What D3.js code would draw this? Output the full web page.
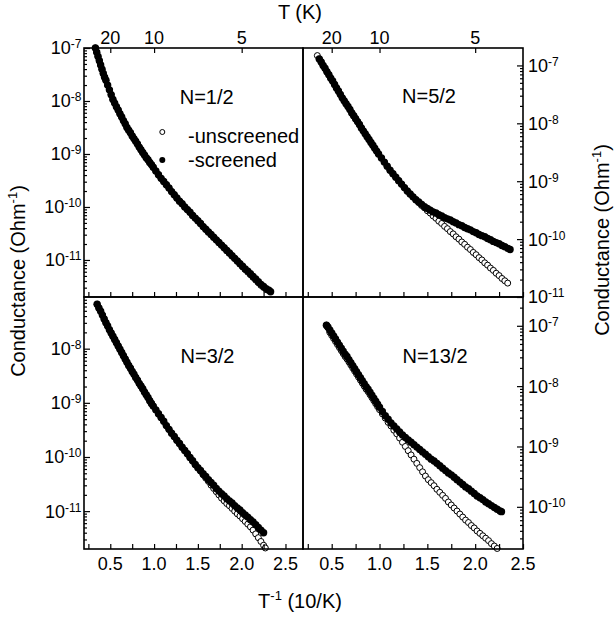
<!DOCTYPE html>
<html>
<head>
<meta charset="utf-8">
<script src="https://cdn.jsdelivr.net/npm/d3@7"></script>
<style>
  body { margin: 0; background: #fff; }
  svg { display: block; }
  text { font-family: "Liberation Sans", Arial, Helvetica, sans-serif; fill: #000; }
</style>
</head>
<body>
<svg id="chart" width="614" height="620"></svg>
<script>
// ---------------- DATA ----------------
// x: inverse temperature T^-1 (10/K); values: log10 of conductance (Ohm^-1)
const panelNames = ["N=1/2", "N=5/2", "N=3/2", "N=13/2"];
const legendLabels = ["-unscreened", "-screened"];
const xTickValues = [0.25, 0.5, 0.75, 1.0, 1.25, 1.5, 1.75, 2.0, 2.25, 2.5];
const xTickLabels = [0.5, 1.0, 1.5, 2.0, 2.5];
const tempTicks = [20, 10, 5];           // T (K) on the top axis
const decadeExponents = [-11, -10, -9, -8, -7];

// Panel N=1/2
const invT_1 = [0.33,0.345,0.36,0.375,0.39,0.405,0.42,0.435,0.45,
  0.47,0.49,0.51,0.53,0.55,0.57,0.59,0.61,0.63,0.65,0.67,0.69,0.71,0.73,0.75,0.77,0.79,0.81,0.83,0.85,0.87,0.89,0.91,0.93,0.95,0.97,0.99,
  1.02,1.05,1.08,1.11,1.14,1.17,1.20,1.23,1.26,1.29,1.32,1.35,1.38,1.41,1.44,1.47,1.50,1.53,1.56,1.59,1.62,1.65,1.68,1.71,1.74,1.77,1.80,1.83,1.86,1.89,1.92,1.95,1.98,2.01,2.04,2.07,2.10,2.13,2.16,2.19,2.22,2.25,2.28,2.31,
  2.33];
const logG_screened_1 = [-7.00,-7.08,-7.16,-7.24,-7.32,-7.40,-7.48,-7.55,-7.61,
  -7.70,-7.79,-7.88,-7.97,-8.04,-8.11,-8.17,-8.24,-8.30,-8.37,-8.43,-8.50,-8.55,-8.60,-8.66,-8.71,-8.76,-8.81,-8.87,-8.92,-8.97,-9.02,-9.07,-9.11,-9.16,-9.20,-9.25,
  -9.32,-9.39,-9.46,-9.52,-9.58,-9.64,-9.71,-9.77,-9.83,-9.89,-9.94,-10.00,-10.05,-10.10,-10.16,-10.21,-10.26,-10.31,-10.37,-10.42,-10.47,-10.52,-10.57,-10.62,-10.67,-10.72,-10.77,-10.82,-10.87,-10.92,-10.97,-11.02,-11.07,-11.12,-11.17,-11.21,-11.26,-11.31,-11.36,-11.41,-11.46,-11.50,-11.54,-11.57,
  -11.60];
const logG_unscreened_1 = [-7.00,-7.08,-7.16,-7.24,-7.32,-7.40,-7.48,-7.55,-7.61,
  -7.70,-7.79,-7.88,-7.97,-8.04,-8.11,-8.17,-8.24,-8.30,-8.37,-8.43,-8.50,-8.55,-8.60,-8.66,-8.71,-8.76,-8.81,-8.87,-8.92,-8.97,-9.02,-9.07,-9.11,-9.16,-9.20,-9.25,
  -9.32,-9.39,-9.46,-9.52,-9.58,-9.64,-9.71,-9.77,-9.83,-9.89,-9.94,-10.00,-10.05,-10.10,-10.16,-10.21,-10.26,-10.31,-10.37,-10.42,-10.47,-10.52,-10.57,-10.62,-10.67,-10.72,-10.77,-10.82,-10.87,-10.92,-10.97,-11.02,-11.07,-11.13,-11.18,-11.23,-11.28,-11.33,-11.38,-11.43,-11.48,-11.52,-11.56,null,
  null];

// Panel N=5/2
const invT_2 = [0.35,0.37,0.39,0.41,0.43,0.45,0.47,0.49,0.51,0.53,0.55,0.57,0.59,0.61,0.63,0.65,0.67,0.69,0.71,0.73,0.75,0.77,0.79,0.81,0.83,0.85,0.87,0.89,0.91,0.93,0.95,0.97,0.99,
  1.02,1.05,1.08,1.11,1.14,1.17,1.20,1.23,1.26,1.29,1.32,1.35,1.38,1.41,1.44,1.47,1.50,1.53,1.56,1.59,1.62,1.65,1.68,1.71,1.74,1.77,1.80,1.83,1.86,1.89,1.92,1.95,1.98,2.01,2.04,2.07,2.10,2.13,2.16,2.19,2.22,2.25,2.28,2.31,2.34,
  2.365];
const logG_screened_2 = [null,-6.89,-6.94,-7.00,-7.05,-7.11,-7.16,-7.22,-7.27,-7.33,-7.39,-7.44,-7.50,-7.56,-7.61,-7.66,-7.71,-7.76,-7.82,-7.87,-7.92,-7.97,-8.02,-8.08,-8.13,-8.18,-8.23,-8.28,-8.33,-8.38,-8.43,-8.48,-8.53,
  -8.60,-8.67,-8.74,-8.81,-8.87,-8.93,-8.99,-9.05,-9.11,-9.17,-9.22,-9.27,
  -9.32,-9.36,-9.40,-9.44,-9.47,-9.50,-9.53,-9.55,-9.58,-9.60,-9.63,-9.65,-9.67,-9.70,-9.72,-9.75,-9.77,-9.80,-9.82,-9.84,-9.87,-9.89,-9.92,-9.94,-9.96,-9.99,-10.01,-10.04,-10.06,-10.08,-10.11,-10.13,-10.16,
  -10.18];
const logG_unscreened_2 = [-6.83,-6.89,-6.94,-7.00,-7.05,-7.11,-7.16,-7.22,-7.27,-7.33,-7.39,-7.44,-7.50,-7.56,-7.61,-7.66,-7.71,-7.76,-7.82,-7.87,-7.92,-7.97,-8.02,-8.08,-8.13,-8.18,-8.23,-8.28,-8.33,-8.38,-8.43,-8.48,-8.53,
  -8.60,-8.67,-8.74,-8.81,-8.87,-8.93,-8.99,-9.05,-9.11,-9.17,-9.22,-9.27,
  -9.32,-9.37,-9.42,-9.46,-9.51,-9.55,-9.60,-9.64,-9.69,-9.73,-9.78,-9.82,-9.87,-9.91,-9.96,-10.00,-10.05,-10.09,-10.14,-10.18,-10.23,-10.27,-10.32,-10.36,-10.41,-10.45,-10.50,-10.54,-10.59,-10.63,-10.68,-10.72,-10.76,
  null];

// Panel N=3/2
const invT_3 = [0.35,0.37,0.39,0.41,0.43,0.45,0.47,0.49,0.51,0.53,0.55,0.57,0.59,0.61,0.63,0.65,0.67,0.69,0.71,0.73,0.75,0.77,0.79,0.81,0.83,0.85,0.87,0.89,0.91,0.93,0.95,0.97,0.99,
  1.02,1.05,1.08,1.11,1.14,1.17,1.20,1.23,1.26,1.29,1.32,1.35,1.38,1.41,1.44,1.47,1.50,1.53,1.56,1.59,1.62,1.65,1.68,1.71,1.74,1.77,1.80,1.83,1.86,1.89,1.92,1.95,1.98,2.01,2.04,2.07,2.10,2.13,2.16,2.19,2.22,2.25,
  2.27];
const logG_screened_3 = [-7.18,-7.25,-7.31,-7.38,-7.45,-7.52,-7.58,-7.65,-7.71,-7.77,-7.83,-7.89,-7.95,-8.01,-8.07,-8.13,-8.19,-8.25,-8.31,-8.36,-8.42,-8.47,-8.53,-8.58,-8.64,-8.69,-8.74,-8.80,-8.85,-8.90,-8.96,-9.01,-9.06,
  -9.13,-9.20,-9.27,-9.34,-9.42,-9.49,-9.56,-9.62,-9.69,-9.75,-9.82,-9.88,-9.94,-10.01,-10.07,-10.14,-10.20,-10.25,-10.31,-10.36,-10.42,-10.47,-10.52,-10.58,-10.63,-10.68,-10.72,-10.77,-10.81,-10.85,-10.90,-10.94,-10.98,-11.03,-11.07,-11.11,-11.16,-11.20,-11.25,-11.30,-11.35,-11.40,
  null];
const logG_unscreened_3 = [-7.18,-7.25,-7.31,-7.38,-7.45,-7.52,-7.58,-7.65,-7.71,-7.77,-7.83,-7.89,-7.95,-8.01,-8.07,-8.13,-8.19,-8.25,-8.31,-8.36,-8.42,-8.47,-8.53,-8.58,-8.64,-8.69,-8.74,-8.80,-8.85,-8.90,-8.96,-9.01,-9.06,
  -9.13,-9.20,-9.27,-9.34,-9.42,-9.49,-9.56,-9.62,-9.69,-9.75,-9.82,-9.88,-9.94,-10.01,-10.07,-10.14,-10.20,-10.26,-10.33,-10.39,-10.45,-10.52,-10.58,-10.64,-10.70,-10.76,-10.81,-10.86,-10.90,-10.95,-11.00,-11.05,-11.09,-11.14,-11.19,-11.24,-11.29,-11.35,-11.42,-11.49,-11.56,-11.63,
  -11.68];

// Panel N=13/2
const invT_4 = [0.445,0.46,0.48,0.50,0.52,0.54,0.56,0.58,0.60,0.62,0.64,0.66,0.68,0.70,0.72,0.74,0.76,0.78,0.80,0.82,0.84,0.86,0.88,0.90,0.92,0.94,0.96,0.98,1.00,
  1.03,1.06,1.09,1.12,1.15,1.18,1.21,1.24,1.27,1.30,1.33,1.36,1.39,1.42,1.45,1.48,1.51,1.54,1.57,1.60,1.63,1.66,1.69,1.72,1.75,1.78,1.81,1.84,1.87,1.90,1.93,1.96,1.99,2.02,2.05,2.08,2.11,2.14,2.17,2.20,2.23,2.26,
  2.275];
const logG_screened_4 = [-6.99,-7.02,-7.07,-7.12,-7.17,-7.22,-7.27,-7.32,-7.37,-7.42,-7.47,-7.51,-7.56,-7.61,-7.66,-7.71,-7.76,-7.81,-7.86,-7.91,-7.96,-8.01,-8.05,-8.10,-8.15,-8.20,-8.25,-8.30,-8.35,
  -8.42,-8.49,-8.55,-8.61,-8.66,-8.71,-8.76,-8.81,-8.85,-8.89,-8.93,-8.97,-9.01,-9.05,-9.09,-9.13,-9.17,-9.21,-9.24,-9.28,-9.32,-9.36,-9.40,-9.44,-9.47,-9.51,-9.55,-9.59,-9.63,-9.67,-9.70,-9.74,-9.78,-9.82,-9.85,-9.88,-9.92,-9.95,-9.98,-10.01,-10.04,-10.07,
  -10.08];
const logG_unscreened_4 = [-6.99,-7.03,-7.11,-7.16,-7.21,-7.26,-7.31,-7.36,-7.41,-7.46,-7.51,-7.55,-7.60,-7.65,-7.70,-7.75,-7.80,-7.85,-7.90,-7.95,-8.00,-8.05,-8.09,-8.14,-8.19,-8.24,-8.29,-8.34,-8.39,
  -8.46,-8.53,-8.60,-8.66,-8.73,-8.79,-8.86,-8.93,-9.00,-9.07,-9.14,-9.21,-9.28,-9.35,-9.42,-9.49,-9.55,-9.60,-9.65,-9.71,-9.76,-9.81,-9.86,-9.92,-9.97,-10.02,-10.07,-10.12,-10.17,-10.22,-10.26,-10.31,-10.35,-10.40,-10.44,-10.48,-10.52,-10.56,-10.61,-10.65,-10.69,null,
  null];

// ---------------- LAYOUT ----------------
const FRAME = { xL: 84, xM: 303, xR: 523, yT: 48, yM: 297, yB: 549 };
const FONT_TICK = 18, FONT_SUP = 12, FONT_TITLE = 20;
const R_FILLED = 3.7, R_OPEN = 3.0;

const panels = [
  { name: panelNames[0], xs: invT_1, s: logG_screened_1, u: logG_unscreened_1,
    xDom: [0.2, 2.7], yDom: [2e-12, 1e-7], xr: [FRAME.xL, FRAME.xM], yr: [FRAME.yM, FRAME.yT],
    side: "left", top: true, namePos: [206.7, 104] },
  { name: panelNames[1], xs: invT_2, s: logG_screened_2, u: logG_unscreened_2,
    xDom: [0.2, 2.5], yDom: [1e-11, 2e-7], xr: [FRAME.xM, FRAME.xR], yr: [FRAME.yM, FRAME.yT],
    side: "right", top: true, namePos: [429, 103] },
  { name: panelNames[2], xs: invT_3, s: logG_screened_3, u: logG_unscreened_3,
    xDom: [0.2, 2.7], yDom: [2e-12, 9e-8], xr: [FRAME.xL, FRAME.xM], yr: [FRAME.yB, FRAME.yM],
    side: "left", top: false, namePos: [207.5, 363] },
  { name: panelNames[3], xs: invT_4, s: logG_screened_4, u: logG_unscreened_4,
    xDom: [0.2, 2.5], yDom: [2e-11, 3e-7], xr: [FRAME.xM, FRAME.xR], yr: [FRAME.yB, FRAME.yM],
    side: "right", top: false, namePos: [435, 363] }
];

const svg = d3.select("#chart");
svg.append("rect").attr("width", 614).attr("height", 620).attr("fill", "#fff");

function powLabel(sel, x, y, exp, anchor) {
  const t = sel.append("text").attr("x", x).attr("y", y)
    .attr("text-anchor", anchor).attr("font-size", FONT_TICK);
  t.append("tspan").text("10");
  t.append("tspan").attr("dy", -6).attr("font-size", FONT_SUP).text(String(exp));
}

function stripDomain(g) { g.select(".domain").remove(); g.selectAll(".tick line").attr("stroke", "#000").attr("stroke-width", 1.2); }

panels.forEach((p) => {
  const x = d3.scaleLinear().domain(p.xDom).range(p.xr);
  const y = d3.scaleLog().domain(p.yDom).range(p.yr);
  const g = svg.append("g");

  // data points
  const ptsU = p.xs.map((v, i) => ({ x: v, v: p.u[i] })).filter(d => d.v !== null && d.v !== undefined)
    .map(d => ({ x: d.x, g: Math.pow(10, d.v) }));
  const ptsS = p.xs.map((v, i) => ({ x: v, v: p.s[i] })).filter(d => d.v !== null && d.v !== undefined)
    .map(d => ({ x: d.x, g: Math.pow(10, d.v) }));

  g.append("g").selectAll("circle").data(ptsU).join("circle")
    .attr("cx", d => x(d.x)).attr("cy", d => y(d.g)).attr("r", R_OPEN)
    .attr("fill", "#fff").attr("stroke", "#000").attr("stroke-width", 1);
  g.append("g").selectAll("circle").data(ptsS).join("circle")
    .attr("cx", d => x(d.x)).attr("cy", d => y(d.g)).attr("r", R_FILLED)
    .attr("fill", "#000");

  // bottom ticks (inward)
  const xt = xTickValues.filter(v => v >= p.xDom[0] - 1e-9 && v <= p.xDom[1] + 1e-9);
  g.append("g").attr("transform", `translate(0,${p.yr[0]})`)
    .call(d3.axisBottom(x).tickValues(xt).tickSize(-5).tickFormat(""))
    .call(stripDomain);

  if (!p.top) {
    g.append("g").selectAll("text").data(xTickLabels.filter(v => v <= p.xDom[1] + 1e-9)).join("text")
      .attr("x", d => x(d)).attr("y", p.yr[0] + 20.5)
      .attr("text-anchor", "middle").attr("font-size", FONT_TICK)
      .text(d => d3.format(".1f")(d));
  } else {
    // top temperature axis
    g.append("g").attr("transform", `translate(0,${p.yr[1]})`)
      .call(d3.axisTop(x).tickValues(tempTicks.map(t => 10 / t)).tickSize(-5).tickFormat(""))
      .call(stripDomain);
    g.append("g").selectAll("text").data(tempTicks).join("text")
      .attr("x", d => x(10 / d)).attr("y", p.yr[1] - 4.5)
      .attr("text-anchor", "middle").attr("font-size", FONT_TICK)
      .text(d => d);
  }

  // y ticks
  const lo = p.yDom[0], hi = p.yDom[1];
  const majors = decadeExponents.map(e => ({ e, v: Math.pow(10, e) }))
    .filter(d => d.v >= lo * 0.999 && d.v <= hi * 1.001);
  const minors = [];
  decadeExponents.concat([-12, -6]).forEach(e => {
    for (let k = 2; k <= 9; k++) {
      const v = k * Math.pow(10, e);
      if (v > lo * 1.001 && v < hi * 0.999) minors.push(v);
    }
  });
  const axisX = p.side === "left" ? p.xr[0] : p.xr[1];
  const mk = p.side === "left" ? d3.axisLeft : d3.axisRight;
  g.append("g").attr("transform", `translate(${axisX},0)`)
    .call(mk(y).tickValues(majors.map(d => d.v)).tickSize(-6).tickFormat(""))
    .call(stripDomain);
  g.append("g").attr("transform", `translate(${axisX},0)`)
    .call(mk(y).tickValues(minors).tickSize(-3).tickFormat(""))
    .call(stripDomain);
  majors.forEach(d => {
    if (p.side === "left") powLabel(g, axisX - 2.5, y(d.v) + 6.4, d.e, "end");
    else powLabel(g, axisX + 5, y(d.v) + 6.4, d.e, "start");
  });

  // frame
  g.append("rect").attr("x", p.xr[0]).attr("y", p.yr[1])
    .attr("width", p.xr[1] - p.xr[0]).attr("height", p.yr[0] - p.yr[1])
    .attr("fill", "none").attr("stroke", "#000").attr("stroke-width", 1.6);

  // panel name
  g.append("text").attr("x", p.namePos[0]).attr("y", p.namePos[1])
    .attr("text-anchor", "middle").attr("font-size", FONT_TITLE).text(p.name);
});

// legend (in first panel)
const leg = svg.append("g");
leg.append("circle").attr("cx", 162.3).attr("cy", 132).attr("r", 2.5)
  .attr("fill", "#fff").attr("stroke", "#000").attr("stroke-width", 1);
leg.append("text").attr("x", 188).attr("y", 142.7).attr("font-size", FONT_TITLE).text(legendLabels[0]);
leg.append("circle").attr("cx", 162.3).attr("cy", 160).attr("r", 3).attr("fill", "#000");
leg.append("text").attr("x", 188).attr("y", 166.7).attr("font-size", FONT_TITLE).text(legendLabels[1]);

// axis titles
svg.append("text").attr("x", 300).attr("y", 19).attr("text-anchor", "middle")
  .attr("font-size", FONT_TITLE).text("T (K)");

const bt = svg.append("text").attr("x", 300).attr("y", 607.5).attr("text-anchor", "middle")
  .attr("font-size", FONT_TITLE);
bt.append("tspan").text("T");
bt.append("tspan").attr("dy", -8).attr("font-size", 13).text("-1");
bt.append("tspan").attr("dy", 8).text(" (10/K)");

function yTitle(xPos, yPos) {
  const t = svg.append("text").attr("transform", `translate(${xPos},${yPos}) rotate(-90)`)
    .attr("text-anchor", "middle").attr("font-size", FONT_TITLE);
  t.append("tspan").text("Conductance (Ohm");
  t.append("tspan").attr("dy", -8).attr("font-size", 13).text("-1");
  t.append("tspan").attr("dy", 8).text(")");
}
yTitle(25, 281);
yTitle(609, 240);
</script>
</body>
</html>
